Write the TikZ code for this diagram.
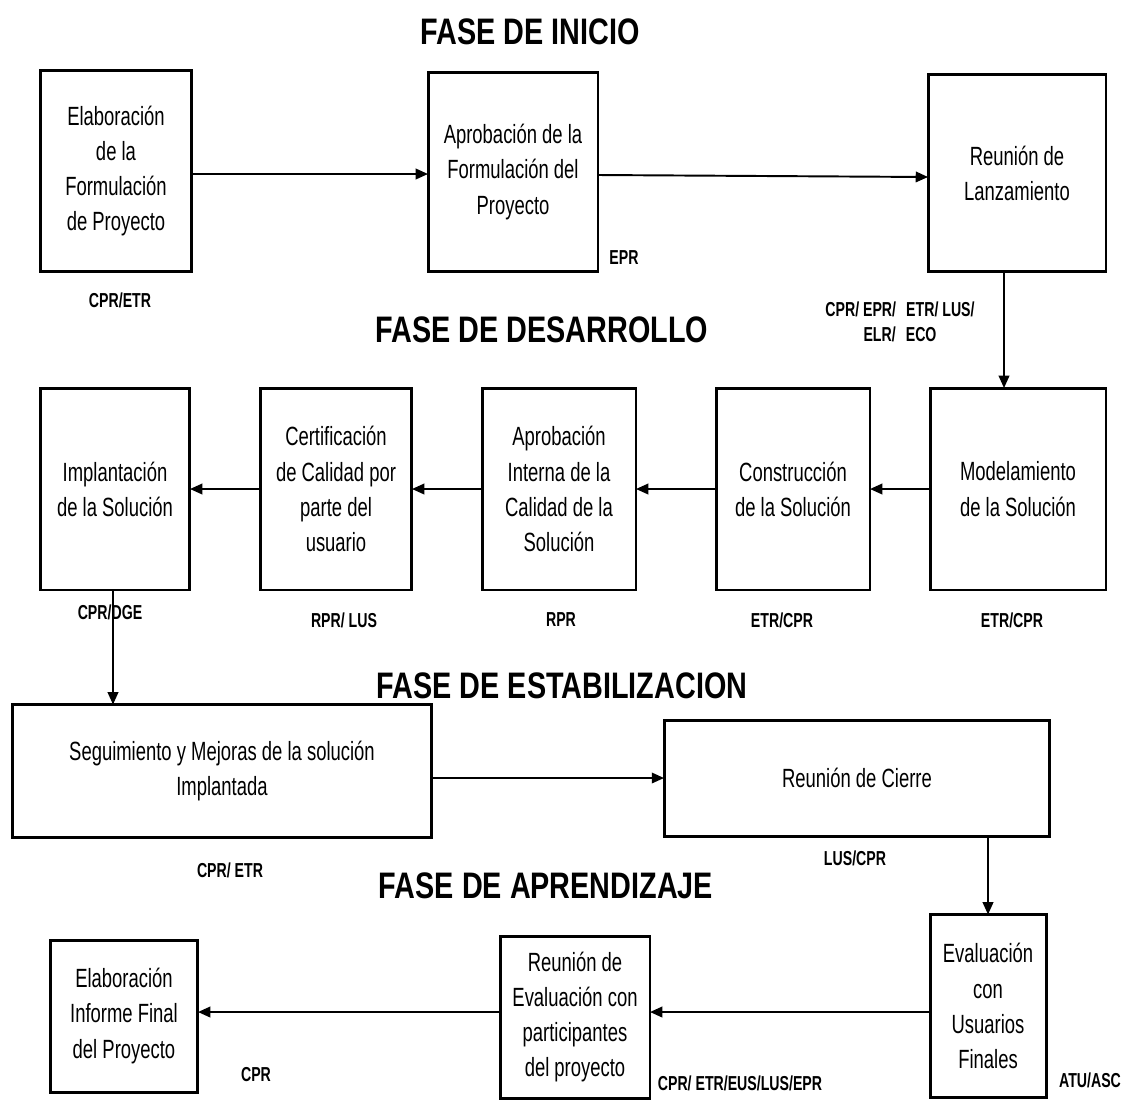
\documentclass[tikz,border=0pt]{standalone}
\usepackage{fontspec}
\setmainfont{Liberation Sans}
\newfontfamily\narrowfamily[FakeStretch=0.7]{Liberation Sans}
\newfontfamily\titlefamily[FakeStretch=0.78]{Liberation Sans}
\usetikzlibrary{arrows.meta}
\begin{document}
\begin{tikzpicture}[x=0.02cm,y=-0.02cm,inner sep=0pt,outer sep=0pt,
>={Triangle[length=7pt,width=6pt]},
phasebox/.style={draw,rectangle,line width=1.7pt,align=center,
  font=\narrowfamily\fontsize{15}{20}\selectfont},
phasetitle/.style={font=\titlefamily\bfseries\fontsize{21}{24}\selectfont},
rolelabel/.style={font=\narrowfamily\bfseries\fontsize{11.5}{14}\selectfont,align=center},
flow/.style={->,line width=1.1pt}]
\useasboundingbox (0,0) rectangle (1128,1103);
% fase de inicio
\node[phasetitle] (tinicio) at (530,32) {FASE DE INICIO};
\draw (116,171) node[phasebox,minimum width=3.04cm,minimum height=4.04cm] (elab) {Elaboración\\de la\\Formulación\\de Proyecto};
\draw (513,172) node[phasebox,minimum width=3.4cm,minimum height=4.0cm] (aprob) {Aprobación de la\\Formulación del\\Proyecto};
\draw (1017,173) node[phasebox,minimum width=3.56cm,minimum height=3.96cm] (lanz) {Reunión de\\Lanzamiento};
\node[rolelabel] (relab) at (120,300) {CPR/ETR};
\node[rolelabel] (raprob) at (624,258) {EPR};
\node[rolelabel] (rlanz) at (900,322) {CPR/ EPR/\enspace ETR/ LUS/\\ ELR/\enspace ECO};
\draw[flow] (elab.east |- 0,174) -- (aprob.west |- 0,174);
\draw[flow] (aprob.east |- 0,175) -- (lanz.west |- 0,177);
% fase de desarrollo
\node[phasetitle] (tdesarrollo) at (542,330) {FASE DE DESARROLLO};
\draw (115,489) node[phasebox,minimum width=3.0cm,minimum height=4.04cm] (impl) {Implantación\\de la Solución};
\draw (336,489) node[phasebox,minimum width=3.04cm,minimum height=4.04cm] (cert) {Certificación\\de Calidad por\\parte del\\usuario};
\draw (559,489) node[phasebox,minimum width=3.08cm,minimum height=4.04cm] (aprint) {Aprobación\\Interna de la\\Calidad de la\\Solución};
\draw (793,489) node[phasebox,minimum width=3.08cm,minimum height=4.04cm] (constr) {Construcción\\de la Solución};
\draw (1018,489) node[phasebox,minimum width=3.52cm,minimum height=4.04cm] (model) {Modelamiento\\de la Solución};
\node[rolelabel] (rimpl) at (110,612) {CPR/DGE};
\node[rolelabel] (rcert) at (344,620) {RPR/ LUS};
\node[rolelabel] (raprint) at (561,620) {RPR};
\node[rolelabel] (rconstr) at (782,620) {ETR/CPR};
\node[rolelabel] (rmodel) at (1012,620) {ETR/CPR};
\draw[flow] ([xshift=-0.26cm]lanz.south) -- ([xshift=-0.26cm]lanz.south |- model.north);
\draw[flow] (model) -- (constr);
\draw[flow] (constr) -- (aprint);
\draw[flow] (aprint) -- (cert);
\draw[flow] (cert) -- (impl);
% fase de estabilizacion
\node[phasetitle] (testab) at (562,686) {FASE DE ESTABILIZACION};
\draw (222,771) node[phasebox,minimum width=8.4cm,minimum height=2.66cm] (segui) {Seguimiento y Mejoras de la solución\\Implantada};
\draw (857,778) node[phasebox,minimum width=7.72cm,minimum height=2.32cm] (cierre) {Reunión de Cierre};
\node[rolelabel] (rsegui) at (230,870) {CPR/ ETR};
\node[rolelabel] (rcierre) at (855,858) {LUS/CPR};
\draw[flow] ([xshift=-0.04cm]impl.south) -- ([xshift=-0.04cm]impl.south |- segui.north);
\draw[flow] (segui.east |- cierre) -- (cierre.west);
% fase de aprendizaje
\node[phasetitle] (taprend) at (546,886) {FASE DE APRENDIZAJE};
\draw (124,1016) node[phasebox,minimum width=2.96cm,minimum height=3.04cm] (inform) {Elaboración\\Informe Final\\del Proyecto};
\draw (575,1017) node[phasebox,minimum width=3.0cm,minimum height=3.24cm] (reunev) {Reunión de\\Evaluación con\\participantes\\del proyecto};
\draw (988,1006) node[phasebox,minimum width=2.32cm,minimum height=3.66cm] (evalu) {Evaluación\\con\\Usuarios\\Finales};
\node[rolelabel] (rinform) at (256,1075) {CPR};
\node[rolelabel] (rreunev) at (740,1083) {CPR/ ETR/EUS/LUS/EPR};
\node[rolelabel] (revalu) at (1090,1080) {ATU/ASC};
\draw[flow] (cierre.south -| evalu.north) -- (evalu.north);
\draw[flow] (evalu.west |- 0,1012) -- (reunev.east |- 0,1012);
\draw[flow] (reunev.west |- 0,1012) -- (inform.east |- 0,1012);
\end{tikzpicture}
\end{document}
